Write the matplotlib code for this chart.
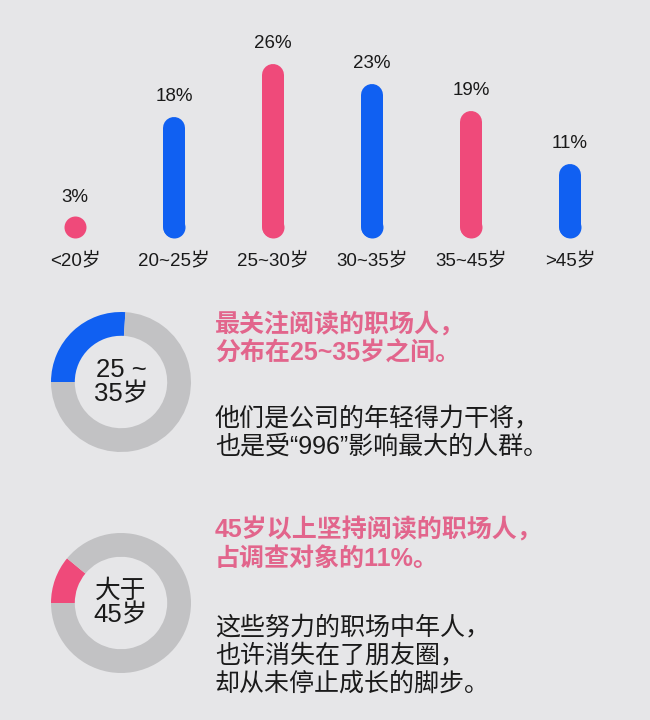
import matplotlib
matplotlib.use("Agg")
import matplotlib.pyplot as plt

plt.rcParams['font.family'] = ['Liberation Sans', 'Noto Sans CJK SC', 'DejaVu Sans']

# 数据
categories = ['<20岁', '20~25岁', '25~30岁', '30~35岁', '35~45岁', '>45岁']
percents = [3, 18, 26, 23, 19, 11]
bar_colors = ['#ef4a7a', '#1060f2', '#ef4a7a', '#1060f2', '#ef4a7a', '#1060f2']

donut_shares = [26, 11]
donut_colors = ['#1060f2', '#ef4a7a']
donut_labels = ['25 ~\n35岁', '大于\n45岁']

headings = [['最关注阅读的职场人，', '分布在25~35岁之间。'],
            ['45岁以上坚持阅读的职场人，', '占调查对象的11%。']]
bodies = [['他们是公司的年轻得力干将，', '也是受“996”影响最大的人群。'],
          ['这些努力的职场中年人，', '也许消失在了朋友圈，', '却从未停止成长的脚步。']]

BG = '#e6e6e8'
GRAY = '#c2c2c4'
PINK_TXT = '#e2658c'
W, H = 650, 720

fig = plt.figure(figsize=(W / 100, H / 100), dpi=100, facecolor=BG)

# ---- 柱状图（圆头线条） ----
px_per_pct = 6.7
ax = fig.add_axes([25.5 / W, (H - 238) / H, 594 / W, 30 * px_per_pct / H])
ax.set_facecolor('none')
ax.set_xlim(-0.5, 5.5)
ax.set_ylim(0, 30)
cap = 11 / px_per_pct
lw = 22 * 0.72
for i, (v, c) in enumerate(zip(percents, bar_colors)):
    top = max(v - cap, cap)
    ax.plot([i, i], [cap, top], color=c, lw=lw, solid_capstyle='round', clip_on=False)
    # 圆头底部（也保证很小的值显示为圆点）
    ax.scatter([i], [cap], s=lw ** 2, color=c, linewidths=0, clip_on=False, zorder=3)
    ax.annotate(f'{v}%', (i, v), xytext=(0, 11.5), textcoords='offset points',
                ha='center', va='baseline', fontsize=13.5, color='#1a1a1a')
ax.set_xticks(range(len(categories)))
ax.set_xticklabels(categories, fontsize=13.5, color='#1a1a1a')
ax.tick_params(axis='x', length=0, pad=10)
ax.set_yticks([])
for s in ax.spines.values():
    s.set_visible(False)

# ---- 环形图 ----
centers_y = [382, 603]
for k in range(2):
    cy = centers_y[k]
    dax = fig.add_axes([51 / W, (H - cy - 70) / H, 140 / W, 140 / H])
    dax.pie([donut_shares[k], 100 - donut_shares[k]], colors=[donut_colors[k], GRAY],
            startangle=180, counterclock=False, radius=1,
            wedgeprops=dict(width=0.34, linewidth=0))
    dax.set_xlim(-1, 1)
    dax.set_ylim(-1, 1)
    dax.set_aspect('equal')
    dax.axis('off')
    dax.text(0, 0, donut_labels[k], ha='center', va='center', fontsize=18.5,
             linespacing=1.05, color='#1a1a1a')

# ---- 文字说明 ----
head_y = [325, 530]
body_y = [418, 627]
step = 28.5
for k in range(2):
    for j, line in enumerate(headings[k]):
        fig.text(215 / W, 1 - (head_y[k] + j * step) / H, line, ha='left', va='center',
                 fontsize=18, color=PINK_TXT, fontweight='bold')
    for j, line in enumerate(bodies[k]):
        fig.text(215 / W, 1 - (body_y[k] + j * step) / H, line, ha='left', va='center',
                 fontsize=18, color='#1a1a1a')

fig.savefig('out.png', dpi=100, facecolor=BG)
